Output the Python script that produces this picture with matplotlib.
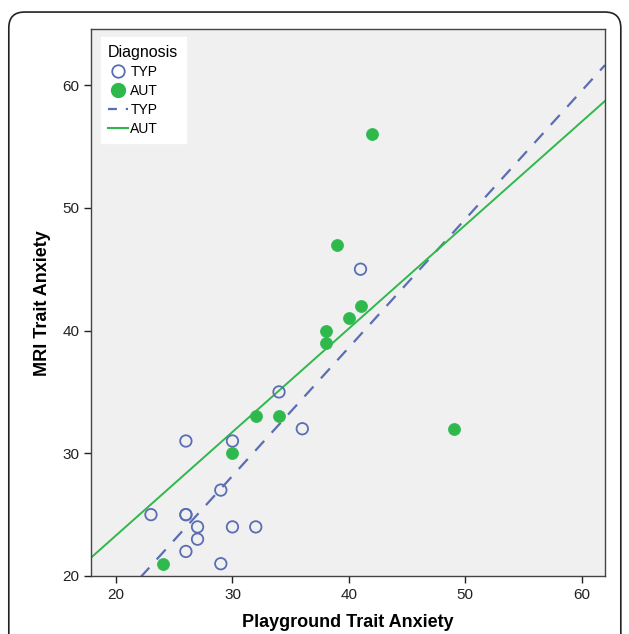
import numpy as np
import matplotlib
matplotlib.use("Agg")
import matplotlib.pyplot as plt
from matplotlib.patches import FancyBboxPatch
from matplotlib.lines import Line2D

plt.rcParams['font.family'] = ['Liberation Sans', 'DejaVu Sans']

# playground vs MRI trait anxiety
typ_play = [23, 26, 26, 26, 26, 27, 27, 29, 29, 30, 30, 32, 34, 36, 41]
typ_mri = [25, 31, 25, 25, 22, 24, 23, 27, 21, 31, 24, 24, 35, 32, 45]
aut_play = [24, 30, 32, 34, 38, 38, 39, 40, 41, 42, 49]
aut_mri = [21, 30, 33, 33, 40, 39, 47, 41, 42, 56, 32]

x_ticks = [20, 30, 40, 50, 60]
y_ticks = [20, 30, 40, 50, 60]

blue = '#5b6db3'
green = '#2fb84c'

fig = plt.figure(figsize=(6.29, 6.34), dpi=100)
# rounded frame around the whole figure
frame = FancyBboxPatch((0.014, -0.1), 0.973, 1.081, boxstyle="round,pad=0,rounding_size=0.025",
                       transform=fig.transFigure, fill=False, edgecolor='#222222', linewidth=1.2)
fig.patches.append(frame)

ax = fig.add_axes([0.1447, 0.0915, 0.8171, 0.8623])
ax.set_facecolor('#f0f0f0')

xlim = (17.85, 62.0)
ylim = (20, 64.55)

ax.scatter(typ_play, typ_mri, s=68, facecolors='none', edgecolors=blue, linewidths=1.3, zorder=3)
ax.scatter(aut_play, aut_mri, s=75, facecolors=green, edgecolors=green, linewidths=0.5, zorder=3)

xs = np.array(xlim)
b, a = np.polyfit(typ_play, typ_mri, 1)
ax.plot(xs, a + b * xs, color=blue, lw=1.6, dashes=(6, 5), zorder=2)
b, a = np.polyfit(aut_play, aut_mri, 1)
ax.plot(xs, a + b * xs, color=green, lw=1.4, zorder=2)

ax.set_xlim(xlim)
ax.set_ylim(ylim)
ax.set_xticks(x_ticks)
ax.set_yticks(y_ticks)
ax.tick_params(direction='out', length=5, width=1, labelsize=11, colors='#222222')
for sp in ax.spines.values():
    sp.set_color('#444444')
    sp.set_linewidth(1)

ax.set_xlabel('Playground Trait Anxiety', fontsize=13, fontweight='bold', labelpad=9)
ax.set_ylabel('MRI Trait Anxiety', fontsize=13, fontweight='bold', labelpad=8)

handles = [
    Line2D([], [], marker='o', ls='none', mfc='none', mec=blue, mew=1.3, ms=9),
    Line2D([], [], marker='o', ls='none', mfc=green, mec=green, ms=10),
    Line2D([], [], color=blue, lw=1.6, dashes=(4, 4)),
    Line2D([], [], color=green, lw=1.5),
]
leg = ax.legend(handles, ['TYP', 'AUT', 'TYP', 'AUT'], title='Diagnosis', loc='upper left',
                bbox_to_anchor=(0.005, 0.9985), fontsize=10, title_fontsize=11.5,
                frameon=True, fancybox=False, edgecolor='white', facecolor='white', framealpha=1,
                handlelength=1.4, handletextpad=0.2, labelspacing=0.36, borderpad=0.55)
leg._legend_box.align = 'left'

fig.savefig('out.png', dpi=100)
